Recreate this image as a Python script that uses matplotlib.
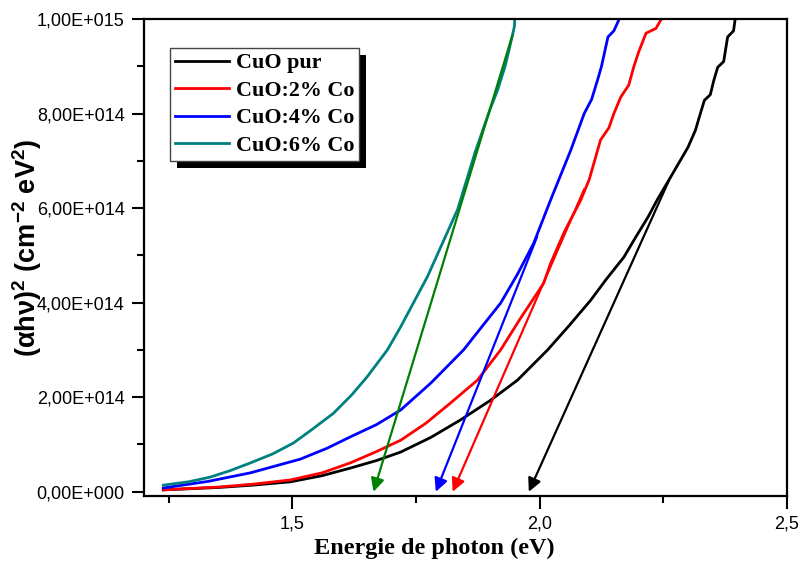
import matplotlib
matplotlib.use('Agg')
import matplotlib.pyplot as plt
import numpy as np
from matplotlib.patches import Rectangle
from matplotlib.ticker import MultipleLocator, FuncFormatter

# (alpha h nu)^2 in units of 1e15 cm^-2 eV^2
e_pur = [1.239, 1.35, 1.42, 1.496, 1.56, 1.617, 1.67, 1.719, 1.78, 1.840, 1.90, 1.955,
         2.016, 2.06, 2.103, 2.135, 2.170, 2.195, 2.219, 2.239, 2.27, 2.300, 2.315, 2.322,
         2.333, 2.345, 2.352, 2.360, 2.372, 2.380, 2.392, 2.395, 2.397]
a_pur = [0.004, 0.009, 0.014, 0.021, 0.034, 0.050, 0.066, 0.084, 0.115, 0.152, 0.193, 0.236,
         0.300, 0.352, 0.405, 0.450, 0.496, 0.540, 0.581, 0.620, 0.675, 0.729, 0.765, 0.790,
         0.828, 0.840, 0.870, 0.898, 0.910, 0.962, 0.975, 0.998, 1.01]

e_co2 = [1.239, 1.35, 1.42, 1.496, 1.56, 1.617, 1.67, 1.719, 1.77, 1.82, 1.874, 1.921,
         1.96, 2.008, 2.022, 2.05, 2.083, 2.10, 2.123, 2.14, 2.150, 2.164, 2.18, 2.190,
         2.20, 2.215, 2.235, 2.245, 2.25]
a_co2 = [0.004, 0.010, 0.016, 0.025, 0.040, 0.061, 0.085, 0.109, 0.145, 0.188, 0.236, 0.300,
         0.365, 0.441, 0.483, 0.550, 0.617, 0.660, 0.744, 0.770, 0.800, 0.835, 0.860, 0.898,
         0.930, 0.970, 0.980, 0.998, 1.01]

e_co4 = [1.239, 1.33, 1.415, 1.516, 1.57, 1.617, 1.67, 1.719, 1.78, 1.846, 1.88, 1.921,
         1.955, 1.988, 2.022, 2.063, 2.09, 2.105, 2.117, 2.125, 2.138, 2.15, 2.160, 2.162]
a_co4 = [0.008, 0.022, 0.040, 0.069, 0.092, 0.116, 0.142, 0.173, 0.230, 0.300, 0.345, 0.399,
         0.460, 0.526, 0.617, 0.723, 0.800, 0.830, 0.871, 0.900, 0.962, 0.975, 0.998, 1.01]

e_co6 = [1.239, 1.29, 1.334, 1.375, 1.415, 1.46, 1.502, 1.54, 1.583, 1.62, 1.651, 1.692,
         1.719, 1.773, 1.834, 1.87, 1.90, 1.915, 1.93, 1.937, 1.945, 1.949, 1.95]
a_co6 = [0.014, 0.021, 0.031, 0.045, 0.061, 0.080, 0.103, 0.132, 0.166, 0.205, 0.243, 0.300,
         0.349, 0.455, 0.597, 0.720, 0.810, 0.850, 0.900, 0.930, 0.966, 0.985, 1.01]

labels = ['CuO pur', 'CuO:2% Co', 'CuO:4% Co', 'CuO:6% Co']
colors = ['black', '#ff0000', '#0000ff', '#008080']

# linear extrapolations: gap on the x axis and upper end of the line
gaps = [1.978, 1.824, 1.790, 1.664]
fit_top_x = [2.262, 2.090, 1.995, 1.945]
fit_top_y = [0.660, 0.640, 0.540, 0.966]
fit_colors = ['black', '#ff0000', '#0000ff', '#008000']

plt.rcParams['mathtext.fontset'] = 'custom'
plt.rcParams['mathtext.bf'] = 'Liberation Sans:bold'
plt.rcParams['mathtext.rm'] = 'Liberation Sans'
plt.rcParams['mathtext.default'] = 'bf'

fig = plt.figure(figsize=(8.01, 5.67), dpi=100)
ax = fig.add_axes([0.1798, 0.1252, 0.8027, 0.8413])

series = [(e_pur, a_pur), (e_co2, a_co2), (e_co4, a_co4), (e_co6, a_co6)]
handles = []
for (e, a), lab, c in zip(series, labels, colors):
    h, = ax.plot(e, np.array(a) * 1e15, color=c, lw=2, label=lab)
    handles.append(h)

for g, tx, ty, c in zip(gaps, fit_top_x, fit_top_y, fit_colors):
    ax.annotate('', xy=(g, 0), xytext=(tx, ty * 1e15),
                arrowprops=dict(arrowstyle='-|>', color=c, lw=1.6,
                                mutation_scale=20, shrinkA=0, shrinkB=0))

ax.set_xlim(1.2, 2.5)
ax.set_ylim(-0.009e15, 1.0e15)

ax.xaxis.set_major_locator(MultipleLocator(0.5))
ax.xaxis.set_minor_locator(MultipleLocator(0.25))
ax.yaxis.set_major_locator(MultipleLocator(2e14))
ax.yaxis.set_minor_locator(MultipleLocator(1e14))


def fmt_x(v, pos):
    return f'{v:.1f}'.replace('.', ',')


def fmt_y(v, pos):
    if abs(v) < 1:
        return '0,00E+000'
    exp = int(np.floor(np.log10(abs(v))))
    return f'{v / 10 ** exp:.2f}'.replace('.', ',') + f'E+{exp:03d}'


ax.xaxis.set_major_formatter(FuncFormatter(fmt_x))
ax.yaxis.set_major_formatter(FuncFormatter(fmt_y))

ax.tick_params(which='both', direction='out', width=1.5, top=False, right=False)
ax.tick_params(which='major', length=9, labelsize=13, pad=5)
ax.tick_params(which='minor', length=5)
for lab in ax.get_xticklabels() + ax.get_yticklabels():
    lab.set_family('Liberation Sans')
for s in ax.spines.values():
    s.set_linewidth(1.6)

ax.set_xlabel('Energie de photon (eV)', family='Liberation Serif', weight='bold',
              fontsize=17.5)
ax.xaxis.set_label_coords(0.452, -0.088)
ax.set_ylabel(r'(αhν)$^{2}$ (cm$^{-2}$ eV$^{2}$)', family='Liberation Sans',
              weight='bold', fontsize=19.5)
ax.yaxis.set_label_coords(-0.155, 0.52)

leg = ax.legend(handles=handles, loc='upper left', bbox_to_anchor=(0.040, 0.939),
                borderaxespad=0, fancybox=False, framealpha=1, edgecolor='#444444',
                handlelength=2.5, handletextpad=0.3, labelspacing=0.33,
                borderpad=0.22, prop={'family': 'Liberation Serif', 'weight': 'bold',
                                      'size': 15.8})
leg.get_frame().set_linewidth(1.0)

fig.canvas.draw()
bb = leg.get_window_extent()
inv = ax.transAxes.inverted()
(x0, y0) = inv.transform((bb.x0 + 7, bb.y0 - 7))
(x1, y1) = inv.transform((bb.x1 + 7, bb.y1 - 7))
ax.add_patch(Rectangle((x0, y0), x1 - x0, y1 - y0, transform=ax.transAxes,
                       facecolor='black', edgecolor='none', zorder=4.5, clip_on=False))

fig.savefig('out.png', dpi=100)
